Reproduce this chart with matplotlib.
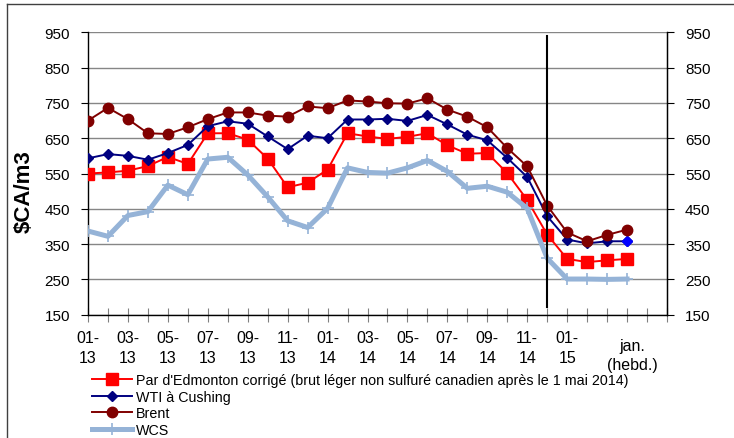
import matplotlib
matplotlib.use('Agg')
import matplotlib.pyplot as plt
from matplotlib.lines import Line2D

plt.rcParams['font.family'] = ['Liberation Sans', 'DejaVu Sans']

# categories: monthly 01-13 .. 01-15, then weekly january points, then 2 empty slots
tick_labels = ['01-\n13', '', '03-\n13', '', '05-\n13', '', '07-\n13', '', '09-\n13', '',
               '11-\n13', '', '01-\n14', '', '03-\n14', '', '05-\n14', '', '07-\n14', '',
               '09-\n14', '', '11-\n14', '', '01-\n15', '', '', '', '', '']

edmonton = [550, 553, 558, 571, 597, 577, 664, 664, 646, 592, 511, 524, 561, 664,
            655, 648, 654, 664, 630, 606, 608, 551, 475, 377, 308, 299, 304, 308]
wti = [593, 605, 600, 589, 608, 631, 684, 698, 691, 655, 619, 657, 650, 703,
       703, 705, 699, 716, 689, 660, 644, 594, 540, 429, 363, 352, 358, 358]
brent = [700, 736, 704, 664, 662, 681, 704, 723, 723, 714, 711, 740, 735, 757,
         754, 749, 748, 763, 731, 711, 681, 622, 570, 459, 383, 358, 376, 391]
wcs = [387, 372, 431, 442, 517, 490, 591, 596, 546, 484, 416, 397, 451, 566,
       553, 551, 566, 587, 556, 508, 514, 497, 451, 310, 251, 251, 250, 251]

x = list(range(len(edmonton)))

fig = plt.figure(figsize=(7.34, 4.39), dpi=100)
fig.patch.set_facecolor('white')
ax = fig.add_axes([0.1199, 0.2809, 0.7888, 0.6432])

ax.plot(x, edmonton, color='#FF0000', lw=1.4, marker='s', ms=8, zorder=3,
        label="Par d'Edmonton corrigé (brut léger non sulfuré canadien après le 1 mai 2014)")
ax.plot(x, wti, color='#000080', lw=1.4, marker='D', ms=5.5, zorder=4, label='WTI à Cushing')
ax.plot(x[-1], wti[-1], color='#0000FF', marker='D', ms=5.5, zorder=4)
ax.plot(x, brent, color='#800000', lw=1.4, marker='o', ms=7.5, zorder=5, label='Brent')
ax.plot(x, wcs, color='#95B3D7', lw=3.6, marker='+', ms=9, mew=1.2, zorder=6, label='WCS')

# separator between monthly and weekly data
ax.plot([23, 23], [172, 940], color='black', lw=1.5, zorder=7)

ax.set_xlim(0, 29)
ax.set_ylim(150, 950)
ax.set_xticks(range(30))
ax.set_xticklabels(tick_labels, fontsize=11.5, linespacing=1.4)
ax.set_yticks(range(150, 951, 100))
ax.tick_params(axis='x', direction='inout', length=10, color='#808080', pad=6)
ax.tick_params(axis='y', direction='out', length=5, labelsize=11, pad=8)
ax.grid(axis='y', color='#868686', lw=1)
ax.set_axisbelow(True)
ax.spines['top'].set_visible(False)
for s in ['left', 'right', 'bottom']:
    ax.spines[s].set_color('black')
    ax.spines[s].set_linewidth(1)

ax.annotate('jan.\n(hebd.)', xy=(27.25, 0), xycoords=('data', 'axes fraction'),
            xytext=(0, -29), textcoords='offset points', ha='center', va='center',
            fontsize=11.5, linespacing=1.4)

ax2 = ax.twinx()
ax2.set_ylim(150, 950)
ax2.set_yticks(range(150, 951, 100))
ax2.tick_params(axis='y', direction='out', length=5, labelsize=11, pad=8)
for s in ['top', 'left', 'bottom']:
    ax2.spines[s].set_visible(False)
ax2.spines['right'].set_color('black')

ax.set_ylabel('$CA/m3', fontsize=16, fontweight='bold')
ax.yaxis.set_label_coords(-0.092, 0.44)

fig.legend(loc='upper left', bbox_to_anchor=(0.125, 1 - 374 / 439), frameon=False,
           fontsize=10.3, handlelength=2.8, handletextpad=0.3, labelspacing=0.18,
           borderaxespad=0, borderpad=0, numpoints=1)

# outer chart frame
fig.add_artist(Line2D([7 / 734, 7 / 734], [0, 1 - 5 / 439], color='#404040', lw=1))
fig.add_artist(Line2D([7 / 734, 1], [1 - 5 / 439, 1 - 5 / 439], color='#404040', lw=1))

fig.savefig('out.png', dpi=100)
